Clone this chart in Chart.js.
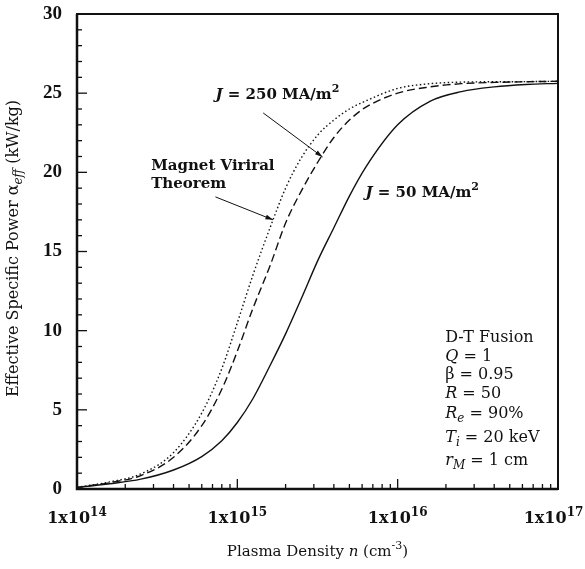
<!DOCTYPE html>
<html>
<head>
<meta charset="utf-8">
<script src="https://cdn.jsdelivr.net/npm/chart.js@4.4.1/dist/chart.umd.min.js"></script>
<style>
    html, body { margin: 0; padding: 0; background: #fff; }
    #wrap { width: 585px; height: 569px; }
</style>
</head>
<body>
<div id="wrap"><canvas id="chart" width="585" height="569"></canvas></div>
<script>
// Plasma density n (cm^-3) where the curves are sampled
const density = [1e14, 1.6e14, 2.5e14, 4e14, 6e14, 8e14, 1e15, 1.25e15, 1.6e15, 2e15, 2.5e15,
    3.2e15, 4e15, 5e15, 6.3e15, 1e16, 1.6e16, 2.5e16, 4e16, 6.3e16, 1e17];

// Effective specific power (kW/kg)
const powerJ50 = [0.1, 0.33, 0.62, 1.2, 2.05, 3.05, 4.2, 5.7, 7.8, 9.8, 12.0,
    14.5, 16.5, 18.5, 20.3, 23.0, 24.5, 25.1, 25.4, 25.55, 25.62];
const powerJ250 = [0.1, 0.4, 0.85, 2.0, 4.0, 6.3, 8.7, 11.4, 14.1, 16.8, 18.8,
    20.7, 22.2, 23.3, 24.1, 25.0, 25.4, 25.6, 25.68, 25.72, 25.75];
const powerVirial = [0.1, 0.45, 0.95, 2.3, 4.8, 7.6, 10.5, 13.5, 16.5, 19.0, 20.9,
    22.4, 23.3, 24.0, 24.5, 25.3, 25.6, 25.7, 25.72, 25.73, 25.75];

// Axis ticks
const xMajorTicks = [1e14, 1e15, 1e16, 1e17];
const xTickExponents = ['14', '15', '16', '17'];
const xMinorFactors = [2, 3, 4, 5, 6, 7, 8, 9];
const yMajorTicks = [0, 5, 10, 15, 20, 25, 30];

const SERIF = '"DejaVu Serif", serif';

// Annotations, anchored in data coordinates
const notes = [
    { x: 7.3e14, y: 24.9, bold: true, parts: [{ t: 'J', i: true }, ' = 250 MA/m', { t: '2', sup: true }] },
    { x: 2.9e14, y: 20.4, bold: true, parts: ['Magnet Viriral'] },
    { x: 2.9e14, y: 19.27, bold: true, parts: ['Theorem'] },
    { x: 6.3e15, y: 18.7, bold: true, parts: [{ t: 'J', i: true }, ' = 50 MA/m', { t: '2', sup: true }] },
    { x: 1.98e16, y: 9.54, parts: ['D-T Fusion'] },
    { x: 1.98e16, y: 8.34, parts: [{ t: 'Q', i: true }, ' = 1'] },
    { x: 1.98e16, y: 7.2, parts: ['β = 0.95'] },
    { x: 1.98e16, y: 6.0, parts: [{ t: 'R', i: true }, ' = 50'] },
    { x: 1.98e16, y: 4.74, parts: [{ t: 'R', i: true }, { t: 'e', i: true, sub: true }, ' = 90%'] },
    { x: 1.98e16, y: 3.22, parts: [{ t: 'T', i: true }, { t: 'i', i: true, sub: true }, ' = 20 keV'] },
    { x: 1.98e16, y: 1.77, parts: [{ t: 'r', i: true }, { t: 'M', i: true, sub: true }, ' = 1 cm'] }
];

const arrows = [
    { from: [1.45e15, 23.75], to: [3.4e15, 20.97] },
    { from: [7.3e14, 18.45], to: [1.67e15, 17.0] }
];

// Draw a line of mixed italic / sub / superscript text
function drawRich(ctx, parts, x, y, size, weight, align) {
    const items = parts.map(p => typeof p === 'string' ? { t: p } : p);
    const fontFor = p => `${p.i ? 'italic ' : ''}${weight} ${p.sup || p.sub ? Math.round(size * 0.72) : size}px ${SERIF}`;
    let total = 0;
    items.forEach(p => {
        ctx.font = fontFor(p);
        p.w = ctx.measureText(p.t).width;
        total += p.w;
    });
    let cx = align === 'center' ? x - total / 2 : (align === 'right' ? x - total : x);
    ctx.textAlign = 'left';
    ctx.textBaseline = 'middle';
    items.forEach(p => {
        ctx.font = fontFor(p);
        const dy = p.sup ? -size * 0.38 : (p.sub ? size * 0.32 : 0);
        ctx.fillText(p.t, cx, y + dy);
        cx += p.w;
    });
    return total;
}

const framePlugin = {
    id: 'frame',
    afterDraw(chart) {
        const ctx = chart.ctx;
        const area = chart.chartArea;
        const xs = chart.scales.x;
        const ys = chart.scales.y;
        ctx.save();
        ctx.strokeStyle = '#111';
        ctx.fillStyle = '#111';

        // frame, heavier on the left and bottom
        ctx.lineWidth = 2;
        ctx.strokeRect(area.left, area.top, area.right - area.left, area.bottom - area.top);
        ctx.lineWidth = 2.5;
        ctx.beginPath();
        ctx.moveTo(area.left, area.top);
        ctx.lineTo(area.left, area.bottom);
        ctx.lineTo(area.right, area.bottom);
        ctx.stroke();

        // inward ticks on the y axis
        ctx.lineWidth = 1.3;
        for (let v = 0; v <= 30; v++) {
            const py = ys.getPixelForValue(v);
            const len = yMajorTicks.includes(v) ? 10 : 5;
            ctx.beginPath();
            ctx.moveTo(area.left, py);
            ctx.lineTo(area.left + len, py);
            ctx.stroke();
        }

        // inward ticks on the x axis
        xMajorTicks.forEach((d, k) => {
            const px = xs.getPixelForValue(d);
            ctx.beginPath();
            ctx.moveTo(px, area.bottom);
            ctx.lineTo(px, area.bottom - 10);
            ctx.stroke();
            if (k < xMajorTicks.length - 1) {
                xMinorFactors.forEach(m => {
                    const mx = xs.getPixelForValue(d * m);
                    ctx.beginPath();
                    ctx.moveTo(mx, area.bottom);
                    ctx.lineTo(mx, area.bottom - 5);
                    ctx.stroke();
                });
            }
        });

        // x tick labels 1x10^n
        xMajorTicks.forEach((d, k) => {
            const parts = ['1x10', { t: xTickExponents[k], sup: true }];
            ctx.font = `bold 16px ${SERIF}`;
            let px = xs.getPixelForValue(d);
            const w = ctx.measureText('1x10').width + ctx.measureText('17').width * 0.72;
            if (px + w / 2 > chart.width - 2) px = chart.width - 2 - w / 2;
            drawRich(ctx, parts, px, area.bottom + 30, 16, 'bold', 'center');
        });

        // axis titles
        drawRich(ctx, ['Plasma Density ', { t: 'n', i: true }, ' (cm', { t: '-3', sup: true }, ')'],
            (area.left + area.right) / 2, area.bottom + 63, 15, 'normal', 'center');
        ctx.save();
        ctx.translate(14, (area.top + area.bottom) / 2 - 3);
        ctx.rotate(-Math.PI / 2);
        drawRich(ctx, ['Effective Specific Power α', { t: 'eff', i: true, sub: true }, ' (kW/kg)'],
            0, 0, 16, 'normal', 'center');
        ctx.restore();

        // annotations
        notes.forEach(n => {
            drawRich(ctx, n.parts, xs.getPixelForValue(n.x), ys.getPixelForValue(n.y),
                n.bold ? 15 : 16, n.bold ? 'bold' : 'normal', 'left');
        });

        // arrows
        ctx.lineWidth = 1;
        arrows.forEach(a => {
            const x1 = xs.getPixelForValue(a.from[0]), y1 = ys.getPixelForValue(a.from[1]);
            const x2 = xs.getPixelForValue(a.to[0]), y2 = ys.getPixelForValue(a.to[1]);
            const ang = Math.atan2(y2 - y1, x2 - x1);
            ctx.beginPath();
            ctx.moveTo(x1, y1);
            ctx.lineTo(x2, y2);
            ctx.stroke();
            ctx.beginPath();
            ctx.moveTo(x2, y2);
            ctx.lineTo(x2 - 8 * Math.cos(ang - 0.3), y2 - 8 * Math.sin(ang - 0.3));
            ctx.lineTo(x2 - 8 * Math.cos(ang + 0.3), y2 - 8 * Math.sin(ang + 0.3));
            ctx.closePath();
            ctx.fill();
        });
        ctx.restore();
    }
};

function series(values) {
    return density.map((n, i) => ({ x: n, y: values[i] }));
}

const lineBase = {
    borderColor: '#111',
    borderWidth: 1.4,
    pointRadius: 0,
    fill: false,
    cubicInterpolationMode: 'monotone'
};

new Chart(document.getElementById('chart').getContext('2d'), {
    type: 'line',
    data: {
        datasets: [
            Object.assign({ label: 'J = 50 MA/m2', data: series(powerJ50) }, lineBase),
            Object.assign({ label: 'J = 250 MA/m2', data: series(powerJ250), borderDash: [8, 4] }, lineBase),
            Object.assign({ label: 'Magnet Viriral Theorem', data: series(powerVirial), borderDash: [1.5, 2.5] }, lineBase)
        ]
    },
    options: {
        responsive: false,
        animation: false,
        layout: { padding: { top: 14, right: 27, left: 0, bottom: 0 } },
        plugins: {
            legend: { display: false },
            tooltip: { enabled: false }
        },
        scales: {
            x: {
                type: 'logarithmic',
                min: 1e14,
                max: 1e17,
                grid: { display: false },
                border: { display: false },
                ticks: { display: false },
                afterFit: s => { s.height = 80; s.paddingLeft = 0; s.paddingRight = 0; }
            },
            y: {
                min: 0,
                max: 30,
                grid: { display: false, drawTicks: false },
                border: { display: false },
                afterBuildTicks: s => { s.ticks = yMajorTicks.map(v => ({ value: v })); },
                ticks: {
                    color: '#111',
                    padding: 15,
                    font: { family: 'Liberation Serif', size: 19, weight: 'bold' }
                },
                afterFit: s => { s.width = 77; s.paddingTop = 0; s.paddingBottom = 0; }
            }
        }
    },
    plugins: [framePlugin]
});
</script>
</body>
</html>
